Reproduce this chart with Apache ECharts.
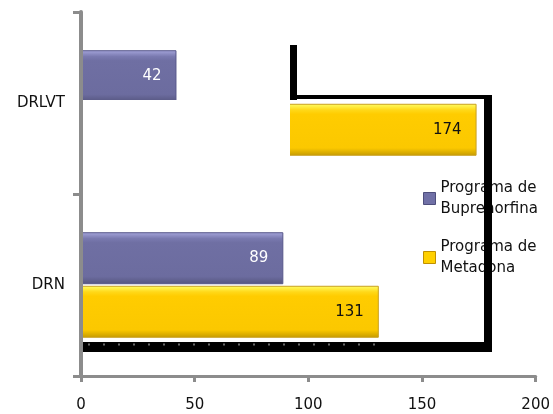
<!DOCTYPE html>
<html>
<head>
<meta charset="utf-8">
<script src="https://cdn.jsdelivr.net/npm/echarts@6/dist/echarts.min.js"></script>
<style>
  html, body { margin: 0; padding: 0; background: #fff; }
  #chart { width: 553px; height: 414px; }
</style>
</head>
<body>
<div id="chart"></div>
<script>
// Categories and values per treatment program
const categories = ['DRLVT', 'DRN'];
const buprenorfina = [42, 89];
const metadona = [174, 131];
const seriesNames = ['Programa de Buprenorfina', 'Programa de Metadona'];
const axisMin = 0, axisMax = 200, axisStep = 50;

const FONT = 'DejaVu Sans';
const AXIS_GREY = '#8c8c8c';

// Bevelled bar fills
const purpleFill = new echarts.graphic.LinearGradient(0, 0, 0, 1, [
  { offset: 0, color: '#a6a6dc' },
  { offset: 0.12, color: '#7a7ab0' },
  { offset: 0.2, color: '#6f6fa3' },
  { offset: 0.85, color: '#6c6c9f' },
  { offset: 1, color: '#55557f' }
]);
const yellowFill = new echarts.graphic.LinearGradient(0, 0, 0, 1, [
  { offset: 0, color: '#ffff66' },
  { offset: 0.12, color: '#ffd818' },
  { offset: 0.2, color: '#ffcc00' },
  { offset: 0.85, color: '#fbc800' },
  { offset: 1, color: '#c49a00' }
]);

const chart = echarts.init(document.getElementById('chart'), null, { renderer: 'canvas' });

chart.setOption({
  animation: false,
  backgroundColor: '#ffffff',
  grid: { left: 81, right: 14, top: 12, bottom: 38, containLabel: false },
  legend: {
    orient: 'vertical',
    left: 423,
    top: 167,
    padding: 0,
    z: 1,
    itemWidth: 12,
    itemHeight: 12,
    itemGap: -4,
    icon: 'rect',
    data: [
      { name: seriesNames[0], itemStyle: { color: '#7070a6', borderColor: '#4e4e7c', borderWidth: 1 } },
      { name: seriesNames[1], itemStyle: { color: '#ffd000', borderColor: '#c09000', borderWidth: 1 } }
    ],
    formatter: function (name) { return name.replace(' de ', ' de\n'); },
    textStyle: {
      fontFamily: FONT,
      fontSize: 15,
      color: '#111',
      lineHeight: 21,
      padding: [21, 0, 0, 0]
    }
  },
  xAxis: {
    type: 'value',
    min: axisMin,
    max: axisMax,
    interval: axisStep,
    axisLine: { show: true, lineStyle: { color: AXIS_GREY, width: 3 } },
    axisTick: { show: true, length: 6, lineStyle: { color: AXIS_GREY, width: 3 } },
    splitLine: { show: false },
    axisLabel: { fontFamily: FONT, fontSize: 15, color: '#111', margin: 22 }
  },
  yAxis: {
    type: 'category',
    inverse: true,
    z: 10,
    data: categories,
    axisLine: { show: true, lineStyle: { color: AXIS_GREY, width: 4 } },
    axisTick: { show: true, length: 8, alignWithLabel: false, lineStyle: { color: AXIS_GREY, width: 3 } },
    axisLabel: { fontFamily: FONT, fontSize: 15, color: '#111', margin: 16 }
  },
  series: [
    {
      name: seriesNames[0],
      type: 'bar',
      z: 5,
      data: buprenorfina,
      barCategoryGap: '42%',
      barGap: '3%',
      itemStyle: { color: purpleFill, borderColor: '#57578a', borderWidth: 1 },
      label: {
        show: true,
        position: 'insideRight',
        distance: 15,
        fontFamily: FONT,
        fontSize: 15,
        color: '#ffffff'
      }
    },
    {
      name: seriesNames[1],
      type: 'bar',
      z: 5,
      data: metadona,
      barCategoryGap: '42%',
      barGap: '3%',
      itemStyle: { color: yellowFill, borderColor: '#c9a020', borderWidth: 1 },
      label: {
        show: true,
        position: 'insideRight',
        distance: 15,
        fontFamily: FONT,
        fontSize: 15,
        color: '#111'
      }
    }
  ]
});

// Heavy black frame around the legend area, a white panel masking the
// left part of the upper band, and the dotted trim along the bottom bar
const y0 = chart.convertToPixel({ yAxisIndex: 0 }, categories[0]);
const y1 = chart.convertToPixel({ yAxisIndex: 0 }, categories[1]);
const bandMid = (y0 + y1) / 2;
const dotsEnd = chart.convertToPixel({ xAxisIndex: 0 }, metadona[1]);

chart.setOption({
  graphic: [
    { type: 'rect', z: 3, shape: { x: 290, y: 45, width: 7, height: 55 }, style: { fill: '#000' } },
    { type: 'rect', z: 3, shape: { x: 290, y: 95, width: 202, height: 4 }, style: { fill: '#000' } },
    { type: 'rect', z: 3, shape: { x: 484, y: 95, width: 8, height: 257 }, style: { fill: '#000' } },
    { type: 'rect', z: 3, shape: { x: 82, y: 342, width: 410, height: 10 }, style: { fill: '#000' } },
    { type: 'rect', z: 8, shape: { x: 80, y: 100, width: 210, height: bandMid - 100 - 2 }, style: { fill: '#fff' } },
    {
      type: 'line', z: 8,
      shape: { x1: 88, y1: 344.5, x2: dotsEnd, y2: 344.5 },
      style: { stroke: '#6a6a6a', lineWidth: 2, lineDash: [2, 13] }
    }
  ]
});
</script>
</body>
</html>
